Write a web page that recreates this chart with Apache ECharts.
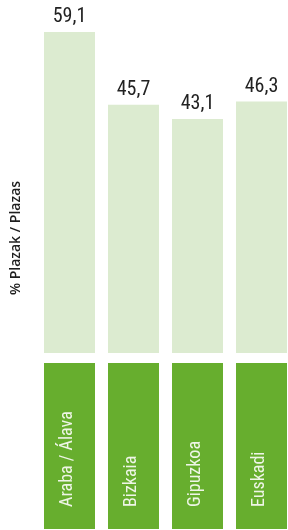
<!DOCTYPE html>
<html>
<head>
<meta charset="utf-8">
<script src="https://cdn.jsdelivr.net/npm/echarts@6/dist/echarts.min.js"></script>
<style>
html,body{margin:0;padding:0;background:#fff;}
#c{width:288px;height:530px;}
</style>
</head>
<body>
<div id="c"></div>
<script>
const categories = ['Araba / Álava', 'Bizkaia', 'Gipuzkoa', 'Euskadi'];
const values = [59.1, 45.7, 43.1, 46.3];
const axisTitle = '% Plazak / Plazas';

const narrow = '"Roboto Condensed", "DejaVu Sans Condensed", sans-serif';
const chart = echarts.init(document.getElementById('c'), null, {renderer: 'canvas'});
chart.setOption({
  animation: false,
  grid: [
    {left: 37.5, width: 256, top: 32, bottom: 177, outerBoundsMode: 'none', containLabel: false},
    {left: 37.5, width: 256, top: 363, bottom: 1, outerBoundsMode: 'none', containLabel: false}
  ],
  xAxis: [
    {type: 'category', gridIndex: 0, data: categories, show: false},
    {type: 'category', gridIndex: 1, data: categories, show: false}
  ],
  yAxis: [
    {type: 'value', gridIndex: 0, min: 0, max: 59.1, show: false},
    {type: 'value', gridIndex: 1, min: 0, max: 1, show: false}
  ],
  graphic: [{
    type: 'text', x: 16, y: 238, rotation: Math.PI / 2,
    style: {text: axisTitle, fill: '#1e1e1e', font: '600 14px "Open Sans", sans-serif', align: 'center', verticalAlign: 'middle'}
  }],
  series: [
    {
      type: 'bar', xAxisIndex: 0, yAxisIndex: 0, data: values, barWidth: 51,
      itemStyle: {color: '#dcebd0'},
      label: {
        show: true, position: 'top', distance: 5,
        formatter: p => p.value.toFixed(1).replace('.', ','),
        fontFamily: narrow, fontSize: 20, color: '#222'
      }
    },
    {
      type: 'bar', xAxisIndex: 1, yAxisIndex: 1, data: categories.map(() => 1), barWidth: 51,
      itemStyle: {color: '#67ae2e'},
      label: {
        show: true, position: 'insideBottom', distance: 22, rotate: 90,
        align: 'left', verticalAlign: 'middle', offset: [0, -2],
        formatter: p => categories[p.dataIndex],
        fontFamily: narrow, fontSize: 18, color: '#eef5e6'
      }
    }
  ]
});
</script>
</body>
</html>
